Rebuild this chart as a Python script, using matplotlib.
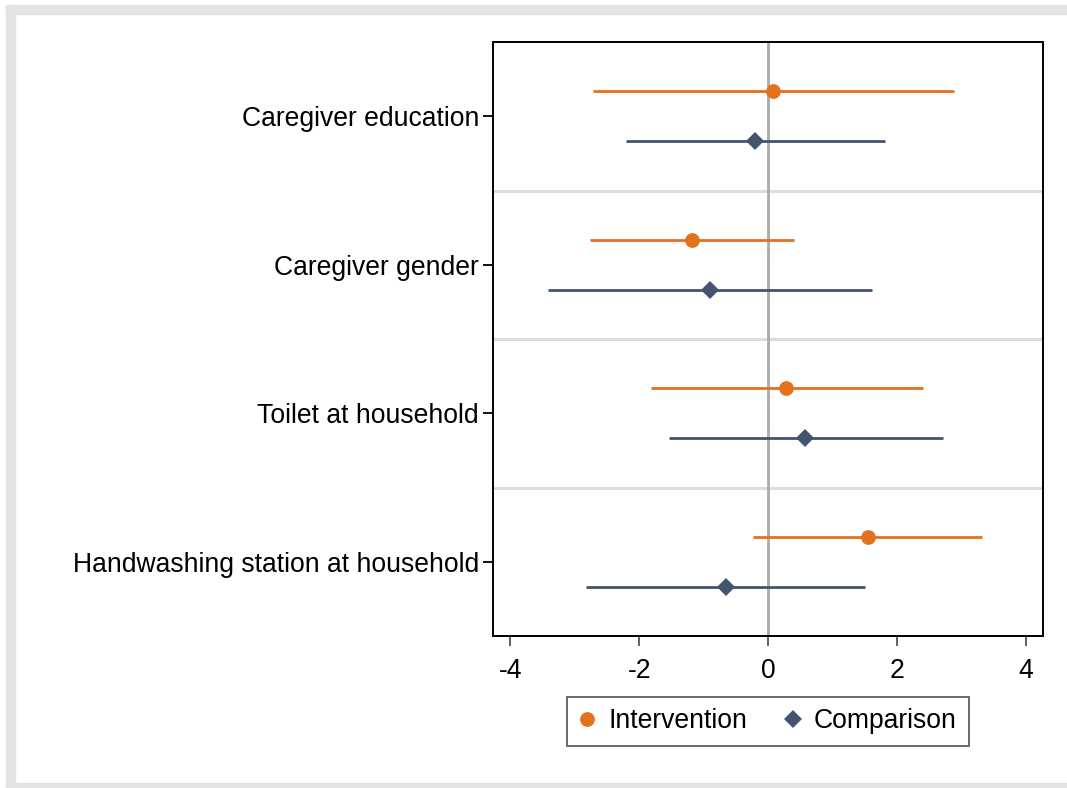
import numpy as np
import matplotlib
matplotlib.use('Agg')
import matplotlib.pyplot as plt
from matplotlib.patches import Rectangle

plt.rcParams['font.family'] = ['Liberation Sans', 'DejaVu Sans']

# data (coefficients and 95% CI)
categories = ['Caregiver education', 'Caregiver gender',
              'Toilet at household', 'Handwashing station at household']
int_coef = [0.08, -1.18, 0.28, 1.56]
int_lo = [-2.71, -2.77, -1.81, -0.23]
int_hi = [2.89, 0.40, 2.40, 3.33]
comp_coef = [-0.20, -0.90, 0.58, -0.65]
comp_lo = [-2.21, -3.41, -1.54, -2.82]
comp_hi = [1.81, 1.62, 2.71, 1.51]
xticks = [-4, -2, 0, 2, 4]

orange = '#E5711F'
slate = '#44546E'

fig = plt.figure(figsize=(10.67, 7.88), dpi=100)
W, H = 1067, 788

# gray outer frame (cropped graph region)
band = '#E4E4E4'
fig.patches.append(Rectangle((6 / W, 0), 9 / W, 1 - 5 / H, transform=fig.transFigure, color=band, zorder=0))
fig.patches.append(Rectangle((6 / W, 1 - 14 / H), 1 - 6 / W, 9 / H, transform=fig.transFigure, color=band, zorder=0))
fig.patches.append(Rectangle((6 / W, 0), 1 - 6 / W, 5 / H, transform=fig.transFigure, color=band, zorder=0))

ax = fig.add_axes([493 / W, 1 - 636 / H, 550 / W, 594 / H])

pos = np.arange(1, len(categories) + 1)
off = 0.168

# separators and zero line
for s in pos[:-1] + 0.5:
    ax.axhline(s, color='#DDDDDD', lw=2.2, zorder=1)
ax.axvline(0, color='#AAAAAA', lw=2.0, zorder=1)

ax.hlines(pos - off, int_lo, int_hi, color=orange, lw=2.0, zorder=2)
ax.plot(int_coef, pos - off, 'o', color=orange, ms=9.6, zorder=3, label='Intervention')
ax.hlines(pos + off, comp_lo, comp_hi, color=slate, lw=2.0, zorder=2)
ax.plot(comp_coef, pos + off, 'D', color=slate, ms=9.4, mew=0, zorder=3, label='Comparison')

ax.set_xlim(-4.27, 4.27)
ax.set_ylim(4.5, 0.5)
ax.set_xticks(xticks)
ax.set_xticklabels([str(t) for t in xticks])
ax.set_yticks(pos)
ax.set_yticklabels(categories)
ax.tick_params(axis='x', length=7.5, width=1.3, color='#555555', pad=8, labelsize=19.1)
ax.tick_params(axis='y', length=7.5, width=1.3, color='black', pad=2.5, labelsize=19.1)
for sp in ax.spines.values():
    sp.set_linewidth(1.4)
    sp.set_color('black')

leg = fig.legend(loc='center', bbox_to_anchor=(768 / W, 1 - 721.5 / H), ncol=2,
                 fontsize=19.1, frameon=True, fancybox=False, edgecolor='#444444',
                 handlelength=0.6, handletextpad=0.5, columnspacing=1.4,
                 borderpad=0.45, borderaxespad=0, markerscale=1.0)
leg.get_frame().set_linewidth(1.4)

fig.savefig('out.png', dpi=100)
